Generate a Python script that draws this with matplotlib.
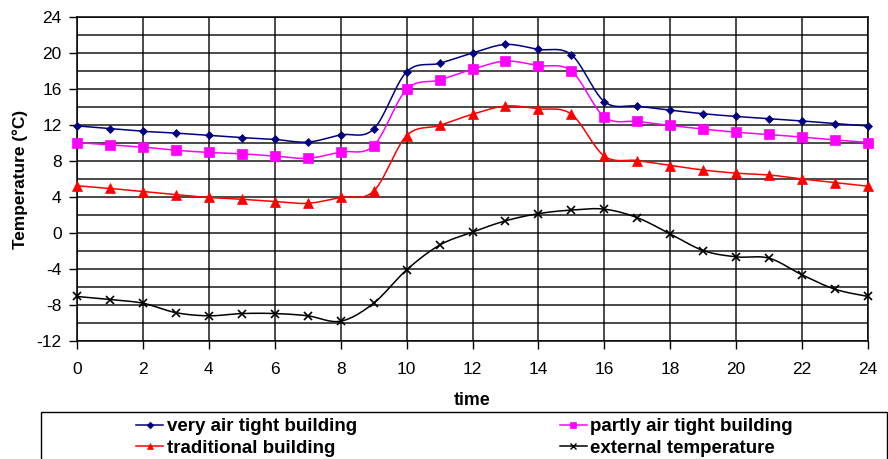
import numpy as np
import matplotlib
matplotlib.use("Agg")
import matplotlib.pyplot as plt
from matplotlib.patches import Rectangle
from matplotlib.lines import Line2D

plt.rcParams['font.family'] = ['Liberation Sans', 'DejaVu Sans']
plt.rcParams['axes.unicode_minus'] = False

hours = list(range(25))
very_air_tight = [11.9, 11.6, 11.3, 11.1, 10.85, 10.6, 10.4, 10.1, 10.9, 11.55,
                  17.9, 18.85, 20.0, 20.95, 20.4, 19.8, 14.6, 14.1, 13.65, 13.25,
                  12.95, 12.7, 12.45, 12.15, 11.9]
partly_air_tight = [10.05, 9.8, 9.55, 9.2, 8.95, 8.8, 8.55, 8.3, 9.0, 9.7,
                    15.95, 17.0, 18.2, 19.1, 18.6, 18.0, 12.9, 12.4, 11.95, 11.55,
                    11.2, 10.95, 10.65, 10.35, 10.05]
traditional = [5.25, 4.95, 4.6, 4.25, 3.95, 3.75, 3.5, 3.3, 3.95, 4.65,
               10.8, 11.95, 13.2, 14.1, 13.8, 13.2, 8.55, 8.05, 7.5, 7.0,
               6.65, 6.45, 6.0, 5.6, 5.2]
external = [-7.05, -7.4, -7.8, -8.85, -9.2, -8.95, -8.95, -9.2, -9.8, -7.8,
            -4.1, -1.35, 0.1, 1.35, 2.15, 2.55, 2.65, 1.7, -0.1, -1.95,
            -2.65, -2.8, -4.65, -6.25, -7.05]

labels = ["very air tight building", "partly air tight building",
          "traditional building", "external temperature"]
x_ticks = list(range(0, 25, 2))
y_ticks = list(range(-12, 25, 4))


def smooth(xs, ys, n=20):
    xs = np.asarray(xs, float)
    ys = np.asarray(ys, float)
    px = np.concatenate([[xs[0]], xs, [xs[-1]]])
    py = np.concatenate([[ys[0]], ys, [ys[-1]]])
    outx, outy = [], []
    t = np.linspace(0, 1, n, endpoint=False)
    for i in range(1, len(px) - 2):
        p0 = np.array([px[i], py[i]])
        p3 = np.array([px[i + 1], py[i + 1]])
        p1 = p0 + (np.array([px[i + 1], py[i + 1]]) - np.array([px[i - 1], py[i - 1]])) / 6
        p2 = p3 - (np.array([px[i + 2], py[i + 2]]) - np.array([px[i], py[i]])) / 6
        for tt in t:
            b = ((1 - tt) ** 3) * p0 + 3 * ((1 - tt) ** 2) * tt * p1 + 3 * (1 - tt) * tt ** 2 * p2 + tt ** 3 * p3
            outx.append(b[0]); outy.append(b[1])
    outx.append(xs[-1]); outy.append(ys[-1])
    return outx, outy


fig = plt.figure(figsize=(8.88, 4.59), dpi=100)
ax = fig.add_axes([77 / 888, 1 - 341 / 459, (868 - 77) / 888, (341 - 17) / 459])

series = [
    (very_air_tight, '#000080', 'D', 4.5),
    (partly_air_tight, '#FF00FF', 's', 6.5),
    (traditional, '#FF0000', '^', 6.5),
    (external, '#000000', 'x', 6),
]
handles = []
for (vals, col, mk, ms), lab in zip(series, labels):
    sx, sy = smooth(hours, vals)
    ax.plot(sx, sy, color=col, lw=1.1, zorder=3, clip_on=False)
    ax.plot(hours, vals, linestyle='none', marker=mk, color=col, ms=ms,
            mew=1.2 if mk == 'x' else 0.5, zorder=4, clip_on=False)
    handles.append(Line2D([], [], color=col, lw=1.1, marker=mk,
                          ms=ms * 0.75, mew=1.0 if mk == 'x' else 0.5))

ax.set_xlim(0, 24)
ax.set_ylim(-12, 24)
ax.set_xticks(x_ticks)
ax.set_yticks(y_ticks)
ax.set_yticks(list(range(-10, 24, 4)), minor=True)
ax.grid(True, which='both', color='black', lw=1.1, alpha=0.9)
ax.tick_params(axis='both', which='major', labelsize=12.5, direction='out',
               length=6, width=1, pad=5)
ax.tick_params(axis='x', which='major', pad=9)
ax.tick_params(axis='y', which='minor', length=0)
for s in ax.spines.values():
    s.set_color('black')
    s.set_linewidth(1.1)

ax.set_xlabel('time', fontsize=12.8, fontweight='bold', labelpad=11)
ax.set_ylabel('Temperature (°C)', fontsize=12.4, fontweight='bold', labelpad=6)

# legend box
rect = Rectangle((41 / 888, -0.05), (887 - 41) / 888, (1 - 412 / 459) + 0.05,
                 transform=fig.transFigure, fill=False, edgecolor='black',
                 lw=1.0, clip_on=False)
fig.patches.append(rect)

order = [handles[0], handles[2], handles[1], handles[3]]
olabels = [labels[0], labels[2], labels[1], labels[3]]
fig.legend(order, olabels, ncol=2, loc='upper left',
           bbox_to_anchor=(136 / 888, 1 - 418 / 459),
           frameon=False, borderpad=0, borderaxespad=0,
           prop={'size': 13.5, 'weight': 'bold'},
           handlelength=1.45, handletextpad=0.2, columnspacing=10.8,
           labelspacing=0.25)

fig.savefig('out.png', dpi=100)
